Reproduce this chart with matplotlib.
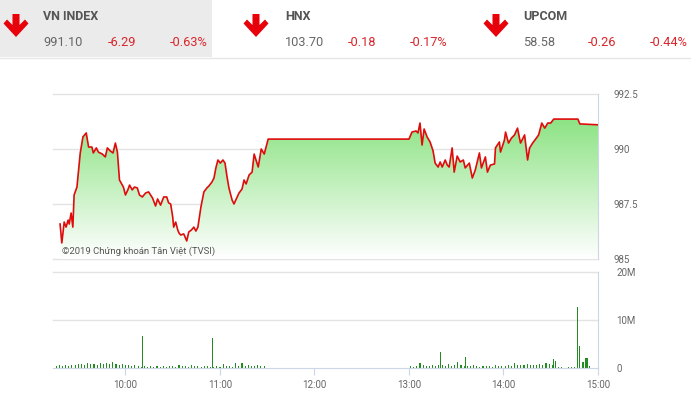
import numpy as np
import matplotlib
matplotlib.use("Agg")
import matplotlib.pyplot as plt
from matplotlib.patches import Polygon, Rectangle

plt.rcParams['font.family'] = ['Roboto', 'DejaVu Sans']

# ---- header data ----
idx_names = ["VN INDEX", "HNX", "UPCOM"]
idx_values = ["991.10", "103.70", "58.58"]
idx_changes = ["-6.29", "-0.18", "-0.26"]
idx_pcts = ["-0.63%", "-0.17%", "-0.44%"]

# ---- intraday VN-Index (minutes after 09:00, index level) ----
price_minutes = [18.5, 19.6, 21.1, 22.3, 23.6, 24.3, 25.5, 26.6, 27.4, 29.2,
                 31.3, 33.0, 35.1, 36.6, 38.7, 39.6, 41.5, 42.8, 45.3, 47.2,
                 48.5, 50.4, 52.1, 53.6, 54.9, 56.2, 58.7, 60.0, 61.5, 62.6,
                 64.3, 65.7, 67.5, 68.9, 70.7, 72.8, 74.7, 77.2, 79.1, 80.4,
                 82.3, 84.3, 86.2, 87.4, 88.7, 90.0, 90.6, 91.9, 93.2, 94.0,
                 95.1, 97.0, 98.9, 100.2, 101.9, 103.4, 104.7, 106.0, 107.9, 109.8,
                 111.7, 113.0, 114.9, 116.2, 117.4, 118.7, 120.2, 121.9, 123.2, 124.5,
                 125.7, 127.7, 128.9, 130.9, 132.1, 134.0, 135.3, 136.6, 138.5, 140.4,
                 141.7, 144.3, 146.2, 148.1, 150.6, 240.0,
                 241.9, 244.5, 245.7, 247.0, 248.3, 249.6, 251.5, 253.4, 255.3, 256.6,
                 258.5, 259.8, 261.1, 263.0, 264.3, 265.5, 267.4, 268.7, 270.6, 272.5,
                 274.5, 275.7, 278.3, 280.2, 282.1, 284.7, 286.0, 288.5, 289.8, 291.7,
                 294.3, 294.9, 297.4, 298.1, 300.6, 301.3, 303.2, 305.1, 307.0, 308.9,
                 310.8, 313.4, 315.3, 316.6, 318.5, 320.4, 322.3, 324.3, 326.2, 328.1,
                 330.0, 331.9, 347.2, 348.5, 360.0]
price_values = [986.59, 985.73, 986.68, 986.45, 986.77, 986.59, 987.09, 986.45, 987.91, 988.27,
                989.82, 990.55, 990.73, 990.09, 990.09, 989.82, 990.05, 989.86, 989.77, 989.64,
                990.05, 989.91, 989.82, 990.27, 989.86, 988.59, 988.27, 987.91, 988.14, 988.36,
                988.14, 988.27, 988.23, 987.91, 987.82, 988.00, 988.05, 987.77, 987.41, 987.73,
                987.45, 987.82, 987.82, 987.55, 987.50, 986.91, 986.45, 986.68, 986.32, 986.18,
                986.09, 986.14, 985.82, 986.23, 986.32, 986.45, 986.27, 986.45, 987.36, 988.05,
                988.23, 988.32, 988.50, 988.68, 989.14, 989.50, 989.36, 989.50, 989.36, 988.73,
                988.23, 987.68, 987.50, 987.82, 988.00, 988.18, 988.59, 988.41, 988.82, 988.95,
                989.77, 989.18, 990.00, 989.77, 990.45, 990.45,
                990.77, 990.82, 990.73, 991.18, 990.18, 990.91, 990.55, 990.32, 989.91, 989.36,
                989.18, 989.41, 989.18, 989.50, 989.27, 989.18, 990.05, 988.95, 989.68, 989.41,
                989.50, 989.14, 989.36, 988.68, 989.05, 989.82, 989.14, 989.64, 988.95, 989.27,
                989.32, 990.05, 990.32, 989.86, 990.41, 990.77, 990.27, 990.50, 990.64, 990.95,
                990.27, 990.64, 989.50, 990.05, 990.27, 990.45, 990.64, 991.18, 990.95, 991.18,
                991.18, 991.36, 991.36, 991.14, 991.10]

# ---- volume (million shares) ----
vol_am_minutes = np.arange(16, 149, 2)
vol_am = [0.5, 0.6, 0.5, 0.6, 0.5, 0.7, 0.6, 0.8,
          0.9, 0.7, 1.0, 0.8, 0.9, 0.7, 1.1, 0.8,
          1.0, 0.9, 1.2, 0.8, 0.7, 0.9, 0.6, 0.7,
          0.5, 0.6, 0.4, 0.3, 0.4, 0.3, 0.4, 0.3,
          0.4, 0.3, 0.5, 0.3, 0.4, 0.5, 0.3, 0.6,
          0.4, 0.5, 0.3, 0.6, 0.4, 0.5, 0.3, 0.4,
          0.5, 0.3, 0.2, 0.4, 0.3, 0.8, 0.4, 0.5,
          0.3, 1.1, 0.4, 1.0, 0.5, 0.6, 0.4, 0.5,
          0.6, 0.4, 0.5]
vol_pm_minutes = np.arange(241, 346, 2)
vol_pm = [0.5, 0.3, 0.4, 1.0, 0.6, 0.4, 0.5, 0.6,
          0.4, 0.7, 0.6, 0.5, 0.8, 0.5, 0.7, 1.3,
          0.6, 0.5, 0.4, 0.5, 0.6, 0.4, 0.3, 0.5,
          0.4, 0.5, 0.3, 0.6, 0.4, 0.5, 0.4, 0.6,
          0.5, 1.1, 0.6, 0.7, 0.6, 0.8, 0.7, 0.6,
          0.7, 0.9, 0.6, 1.0, 0.8, 0.7, 1.4, 0.2,
          0.3, 0.1, 0.3, 0.2, 0.3]
spike_minutes = [71, 115.5, 260, 276, 332, 347, 348, 350.5, 352, 353, 354.5]
spike_vols = [6.7, 6.2, 3.3, 2.3, 1.9, 12.7, 4.6, 1.3, 2.1, 2.1, 0.5]

hour_ticks = [60, 120, 180, 240, 300, 360]
hour_labels = ["10:00", "11:00", "12:00", "13:00", "14:00", "15:00"]
price_ticks = [985, 987.5, 990, 992.5]
price_labels = ["985", "987.5", "990", "992.5"]
vol_ticks = [0, 10, 20]
vol_labels = ["0", "10M", "20M"]

W, H = 691, 398
fig = plt.figure(figsize=(W / 100, H / 100), dpi=100)
fig.patch.set_facecolor('white')

# header drawn in pixel space
hdr = fig.add_axes([0, 0, 1, 1], zorder=0)
hdr.set_xlim(0, W)
hdr.set_ylim(H, 0)
hdr.axis('off')
hdr.add_patch(Rectangle((0, 0), 212, 57, color='#ebebeb', lw=0))
hdr.plot([0, W], [57.5, 57.5], color='#e6e6e6', lw=1)

arrow_x = [16, 256, 496]
text_x = [43, 285, 523]
chg_dx = [65, 63, 65]
pct_dx = [127, 125, 127]
for i in range(3):
    ax0 = arrow_x[i]
    pts = [(ax0 - 3.5, 14), (ax0 + 3.5, 14), (ax0 + 3.5, 25), (ax0 + 9, 19.5),
           (ax0 + 12.5, 23.5), (ax0, 37), (ax0 - 12.5, 23.5), (ax0 - 9, 19.5),
           (ax0 - 3.5, 25)]
    hdr.add_patch(Polygon(pts, closed=True, color='#e8000b', lw=0))
    hdr.text(text_x[i], 16, idx_names[i], fontsize=9, fontweight='bold',
             color='#555555', va='center', ha='left')
    hdr.text(text_x[i], 42, idx_values[i], fontsize=9.2, color='#666666',
             va='center', ha='left')
    hdr.text(text_x[i] + chg_dx[i], 42, idx_changes[i], fontsize=9.2,
             color='#d9262c', va='center', ha='left')
    hdr.text(text_x[i] + pct_dx[i], 42, idx_pcts[i], fontsize=9.2,
             color='#d9262c', va='center', ha='left')

grid_c = '#e3e3e3'
frame_c = '#ccd6eb'
lab_c = '#666666'

# ---- price panel ----
ax = fig.add_axes([53 / W, 1 - 259 / H, 545 / W, 165 / H], zorder=2)
ax.set_facecolor('none')
ax.set_xlim(14, 360)
ax.set_ylim(985, 992.5)
for s in ['top', 'left', 'bottom']:
    ax.spines[s].set_visible(False)
ax.spines['right'].set_color(frame_c)
ax.yaxis.tick_right()
ax.set_yticks(price_ticks)
ax.set_yticklabels(price_labels)
ax.tick_params(axis='y', length=0, pad=11, labelsize=7, labelcolor=lab_c)
ax.set_xticks([])
for t in price_ticks:
    ax.axhline(t, color=grid_c, lw=1, zorder=0, clip_on=False)

xs = np.array(price_minutes)
ys = np.array(price_values)
poly_pts = np.vstack([np.column_stack([xs, ys]), [[xs[-1], 985], [xs[0], 985]]])
clip = Polygon(poly_pts, closed=True, facecolor='none', edgecolor='none')
ax.add_patch(clip)
grad = np.linspace(0, 1, 256).reshape(-1, 1)
top_rgb = np.array([120, 222, 110]) / 255.0
cols = np.zeros((256, 1, 4))
for k in range(3):
    cols[:, 0, k] = 1 - grad[:, 0] * (1 - top_rgb[k])
cols[:, 0, 3] = 1
img = ax.imshow(cols, extent=[14, 360, 985, 992.5], origin='lower',
                aspect='auto', zorder=1, interpolation='bilinear')
img.set_clip_path(clip)
ax.plot(xs, ys, color='#e00c0c', lw=1.2, zorder=3)

ax.text(62, 251, "©2019 Chứng khoán Tân Việt (TVSI)", transform=hdr.transData,
        fontsize=6.8, color='#555555', va='center', ha='left', zorder=5)

# ---- volume panel ----
av = fig.add_axes([53 / W, 1 - 368 / H, 545 / W, 96 / H], zorder=2)
av.set_facecolor('none')
av.set_xlim(14, 360)
av.set_ylim(0, 20)
av.spines['top'].set_visible(False)
av.spines['left'].set_visible(False)
av.spines['right'].set_color(frame_c)
av.spines['bottom'].set_color(frame_c)
av.yaxis.tick_right()
av.set_yticks(vol_ticks)
av.set_yticklabels(vol_labels)
av.tick_params(axis='y', length=0, pad=13, labelsize=7, labelcolor=lab_c)
av.set_xticks(hour_ticks)
av.set_xticklabels(hour_labels)
av.tick_params(axis='x', length=5, color=frame_c, labelsize=7, labelcolor=lab_c, pad=4)
for t in [10, 20]:
    av.axhline(t, color=grid_c, lw=1, zorder=0, clip_on=False)

bar_c = '#228b22'
av.bar(vol_am_minutes, vol_am, width=0.7, color=bar_c, lw=0)
av.bar(vol_pm_minutes, vol_pm, width=0.7, color=bar_c, lw=0)
av.bar(spike_minutes, spike_vols, width=0.7, color=bar_c, lw=0)

fig.savefig("out.png", dpi=100)
